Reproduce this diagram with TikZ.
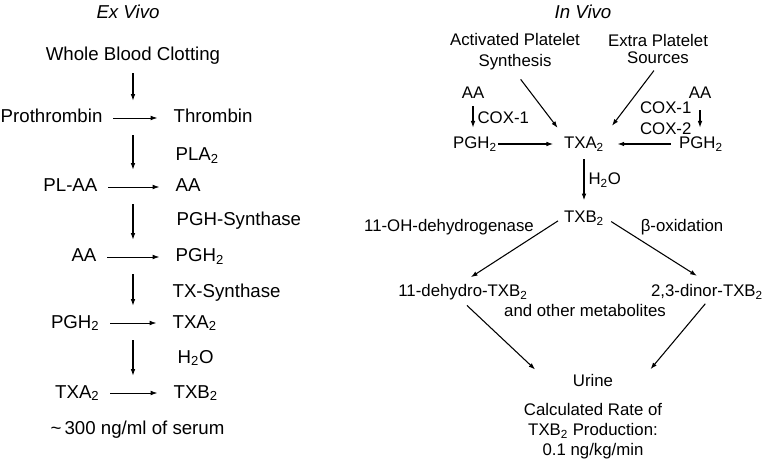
\documentclass[tikz,border=0pt]{standalone}
\usepackage{fontspec}
\setmainfont{Liberation Sans}
\usetikzlibrary{arrows.meta}
\tikzset{>={Latex[width=3.5pt,length=5pt]}}
\newcommand{\subtwo}{\textsubscript{2}}

\begin{document}
\begin{tikzpicture}[x=0.75pt, y=-0.75pt,
    lt/.style={font=\fontsize{14}{16}\selectfont, inner sep=1pt, text height=10.5pt, text depth=3pt},
    rt/.style={font=\fontsize{12.6}{15.75}\selectfont, inner sep=1pt, text height=9.5pt, text depth=2.7pt},
    rtm/.style={font=\fontsize{12.6}{15.75}\selectfont, inner sep=1pt},
    hdr/.style={font=\fontsize{14}{16}\selectfont\itshape},
    hstep/.style={draw, ->, line width=0.6pt, shorten <=7pt, shorten >=11pt},
    vstep/.style={draw, ->, line width=0.8pt, shorten <=5pt, shorten >=5pt},
    flow/.style={draw, ->, line width=0.8pt}]
    \useasboundingbox (0,0) rectangle (767,463);

    % ex vivo
    \node (exv) at (128,12) [hdr] {Ex Vivo};
    \node (wbc) at (133,56) [lt] {Whole Blood Clotting};
    \node (proth) at (104,118) [lt, anchor=east] {Prothrombin};
    \node (thr) at (172,118) [lt, anchor=west] {Thrombin};
    \node (pla) at (174,156) [lt, anchor=west] {PLA\subtwo};
    \node (plaa) at (99,187) [lt, anchor=east] {PL-AA};
    \node (aa1) at (174,187) [lt, anchor=west] {AA};
    \node (pghs) at (175,221) [lt, anchor=west] {PGH-Synthase};
    \node (aa2) at (98,257) [lt, anchor=east] {AA};
    \node (pgh1) at (174,257) [lt, anchor=west] {PGH\subtwo};
    \node (txs) at (171,292) [lt, anchor=west] {TX-Synthase};
    \node (pgh2) at (101,323) [lt, anchor=east] {PGH\subtwo};
    \node (txa1) at (171,323) [lt, anchor=west] {TXA\subtwo};
    \node (hoh1) at (176,358) [lt, anchor=west] {H\subtwo O};
    \node (txa2) at (101,393) [lt, anchor=east] {TXA\subtwo};
    \node (txb1) at (172,393) [lt, anchor=west] {TXB\subtwo};
    \node (serum) at (49,429) [lt, anchor=west] {\textasciitilde\,300 ng/ml of serum};

    \path [vstep] (wbc) -- (wbc |- thr.north);
    \path [vstep] (wbc |- thr.south) -- (wbc |- aa1.north);
    \path [vstep] (wbc |- aa1.south) -- (wbc |- pgh1.north);
    \path [vstep] (wbc |- pgh1.south) -- (wbc |- txa1.north);
    \path [vstep] (wbc |- txa1.south) -- (wbc |- txb1.north);
    \path [hstep] (proth) -- (thr);
    \path [hstep] (plaa) -- (aa1);
    \path [hstep] (aa2) -- (pgh1);
    \path [hstep] (pgh2) -- (txa1);
    \path [hstep] (txa2) -- (txb1);

    % in vivo
    \node (inv) at (583,12) [hdr] {In Vivo};
    \node (aps) at (515,52) [rtm, align=center] {Activated Platelet\\Synthesis};
    \node (eps) at (658,49) [rtm, align=center] {Extra Platelet\\[-3pt]Sources};
    \node (aal) at (473,94) [rt] {AA};
    \node (coxl) at (476,119) [rt, anchor=west] {COX-1};
    \node (pghl) at (475,144) [rt] {PGH\subtwo};
    \node (txa) at (584,144) [rt] {TXA\subtwo};
    \node (pghr) at (701,144) [rt] {PGH\subtwo};
    \node (aar) at (700,94) [rt] {AA};
    \node (coxr) at (693,118) [rtm, align=right, anchor=east] {COX-1\\COX-2};
    \node (hoh) at (587,180) [rt, anchor=west] {H\subtwo O};
    \node (txb) at (584,218) [rt] {TXB\subtwo};
    \node (ohd) at (449,227) [rt] {11-OH-dehydrogenase};
    \node (box) at (682,227) [rt] {β-oxidation};
    \node (dh) at (463,292) [rt] {11-dehydro-TXB\subtwo};
    \node (dn) at (707,292) [rt] {2,3-dinor-TXB\subtwo};
    \node (oth) at (585,312) [rt] {and other metabolites};
    \node (urine) at (593,382) [rt, minimum width=82pt] {Urine};
    \node (rate) at (593,431) [rtm, align=center] {Calculated Rate of\\[-0.75pt]TXB\subtwo{} Production:\\[-0.75pt]0.1 ng/kg/min};

    \path [flow, shorten <=7pt, shorten >=6pt] (aps.south) -- (txa.north west);
    \path [flow, shorten <=5pt, shorten >=8pt] (eps.south) -- (txa.north east);
    \path [flow, shorten <=2pt, shorten >=5pt] (aal.south) -- (aal.south |- pghl.north);
    \path [flow, shorten <=5pt, shorten >=5pt] (aar.south) -- (aar.south |- pghr.north);
    \path [flow, shorten >=7pt] (pghl) -- (txa);
    \path [flow, shorten <=5pt, shorten >=9pt] (pghr) -- (txa);
    \path [flow, shorten <=4pt, shorten >=6pt] (txa) -- (txb);
    \path [flow, shorten <=4pt, shorten >=7pt] (txb.west) -- (dh.north);
    \path [flow, shorten <=5pt, shorten >=9pt] (txb.east) -- (dn.north);
    \path [flow, shorten <=4pt, shorten >=3pt] (dh.south) -- (urine.north west);
    \path [flow, shorten <=2pt, shorten >=3pt] (dn.south) -- (urine.north east);
\end{tikzpicture}
\end{document}
